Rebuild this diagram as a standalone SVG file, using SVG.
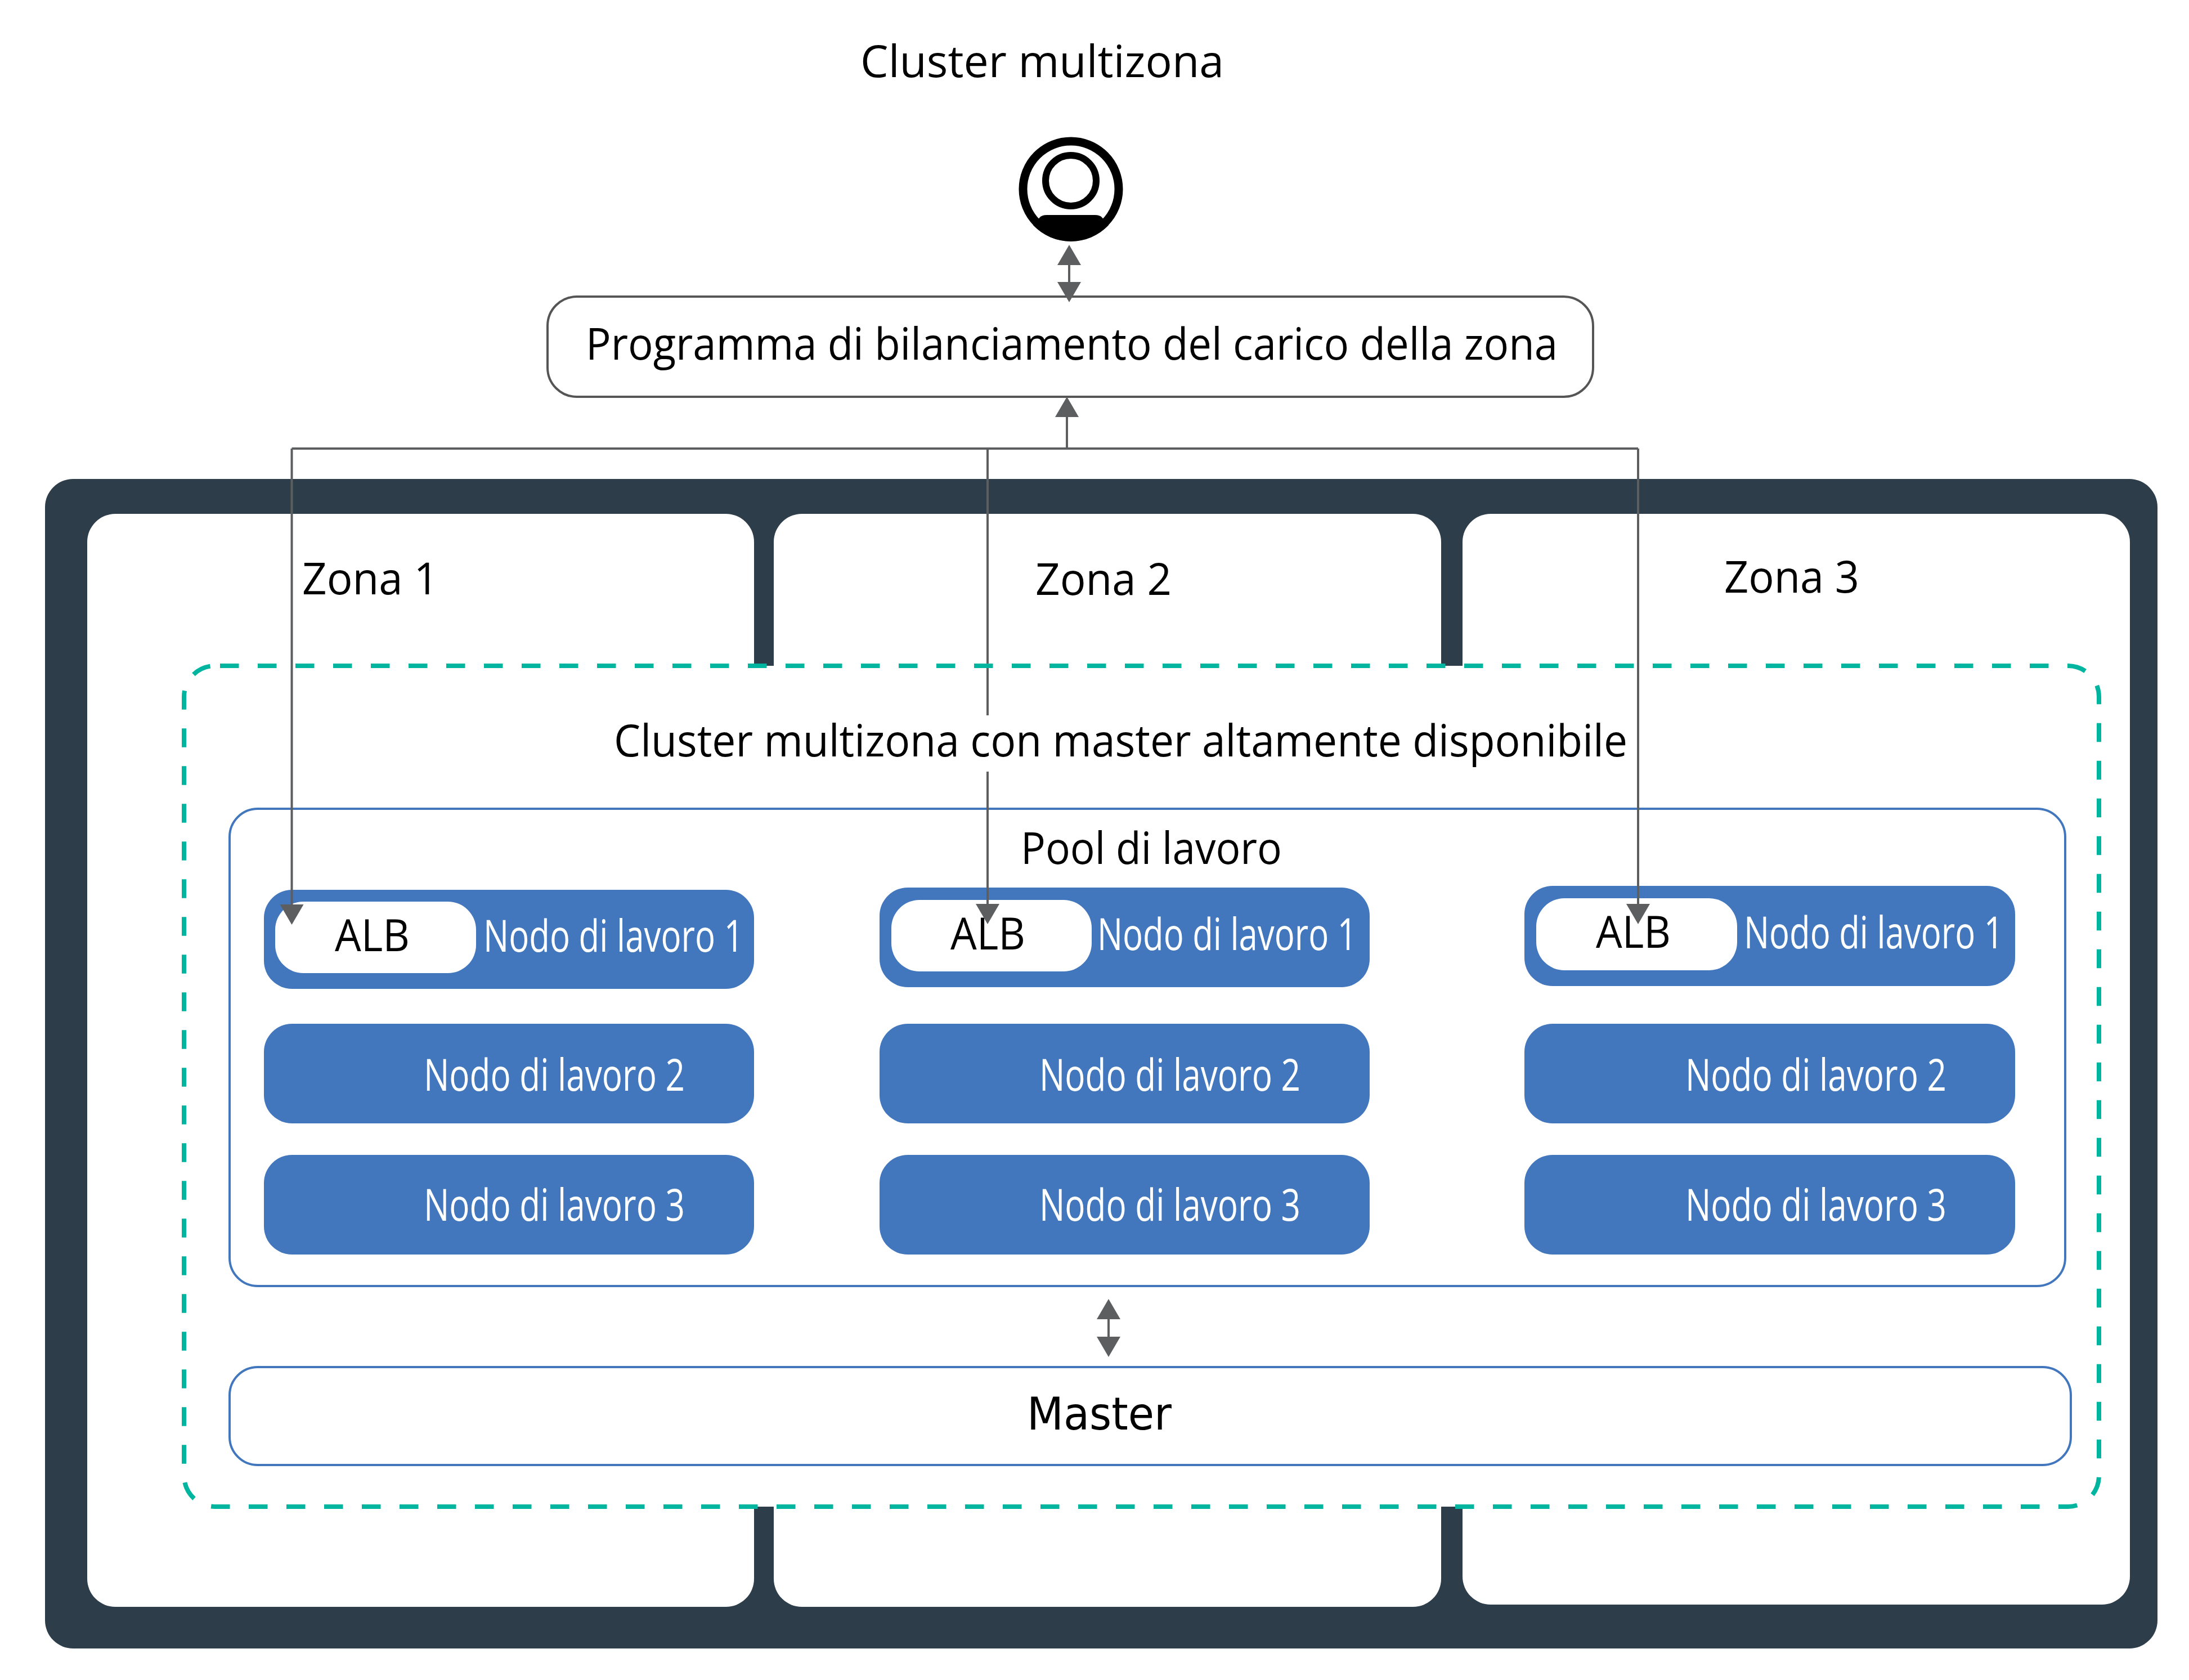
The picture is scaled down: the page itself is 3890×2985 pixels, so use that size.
<svg xmlns="http://www.w3.org/2000/svg" width="3890" height="2985" viewBox="0 0 3890 2985">
<style>
text{font-family:"Open Sans","Liberation Sans",sans-serif;fill:#000;font-size:79px}
.w{fill:#fff;font-size:78px}
.m{font-family:"DejaVu Sans",sans-serif;font-size:80px}
.zone{fill:#fff}
.node{fill:#4277bd}
.alb{fill:#fff}
.box{fill:#fff;stroke:#4277bd;stroke-width:4}
.conn{fill:none;stroke:#5d5e60;stroke-width:4}
</style>
<defs>
<marker id="arrow" markerUnits="userSpaceOnUse" markerWidth="36" markerHeight="42" viewBox="0 0 36 42" refX="32" refY="21" orient="auto-start-reverse"><path d="M0 0L36 21L0 42Z" fill="#5d5e60"/></marker>
</defs>
<rect width="3890" height="2985" fill="#fff"/>
<g id="frame">
<rect x="80" y="851" width="3754" height="2078" rx="50" fill="#2d3e4a"/>
<rect class="zone" x="155" y="913" width="1185" height="1942" rx="50"/>
<rect class="zone" x="1375" y="913" width="1186" height="1942" rx="50"/>
<rect class="zone" x="2599" y="913" width="1186" height="1938" rx="50"/>
<rect class="zone" x="327" y="1183" width="3403" height="1494" rx="55"/>
</g>
<g id="zone-labels">
<text x="537" y="1056" textLength="242" lengthAdjust="spacingAndGlyphs">Zona 1</text>
<text x="1840" y="1057" textLength="242" lengthAdjust="spacingAndGlyphs">Zona 2</text>
<text x="3064" y="1053" textLength="240" lengthAdjust="spacingAndGlyphs">Zona 3</text>
</g>
<g id="title"><text x="1529" y="137" textLength="646" lengthAdjust="spacingAndGlyphs">Cluster multizona</text></g>
<g id="user">
<circle cx="1903" cy="336" r="85" fill="#fff" stroke="#000" stroke-width="15"/>
<circle cx="1903" cy="321" r="45" fill="#fff" stroke="#000" stroke-width="12"/>
<path d="M1836 400L1848 386Q1852 382 1860 382H1946Q1954 382 1958 386L1970 400A92 92 0 0 1 1836 400Z" fill="#000"/>
</g>
<g id="load-balancer">
<rect x="973" y="527" width="1858" height="178" rx="52" fill="#fff" stroke="#555" stroke-width="4"/>
<text x="1041" y="639" textLength="1727" lengthAdjust="spacingAndGlyphs">Programma di bilanciamento del carico della zona</text>
</g>
<g id="ha-label"><text x="1091" y="1344" textLength="1801" lengthAdjust="spacingAndGlyphs">Cluster multizona con master altamente disponibile</text></g>
<g id="worker-pool">
<rect class="box" x="408" y="1437" width="3262" height="848" rx="50"/>
<text x="1814" y="1535" textLength="464" lengthAdjust="spacingAndGlyphs">Pool di lavoro</text>
</g>
<g id="z1-worker1">
<rect class="node" x="469" y="1581" width="871" height="176" rx="50"/>
<rect class="alb" x="489" y="1602" width="357" height="127" rx="50"/>
<text x="595" y="1690" textLength="133" lengthAdjust="spacingAndGlyphs">ALB</text>
<text class="w" x="859" y="1691" textLength="462" lengthAdjust="spacingAndGlyphs">Nodo di lavoro 1</text>
</g>
<g id="z2-worker1">
<rect class="node" x="1563" y="1577" width="871" height="177" rx="50"/>
<rect class="alb" x="1584" y="1599" width="356" height="127" rx="50"/>
<text x="1689" y="1687" textLength="133" lengthAdjust="spacingAndGlyphs">ALB</text>
<text class="w" x="1950" y="1688" textLength="461" lengthAdjust="spacingAndGlyphs">Nodo di lavoro 1</text>
</g>
<g id="z3-worker1">
<rect class="node" x="2709" y="1574" width="872" height="178" rx="50"/>
<rect class="alb" x="2730" y="1596" width="357" height="128" rx="50"/>
<text x="2836" y="1684" textLength="133" lengthAdjust="spacingAndGlyphs">ALB</text>
<text class="w" x="3099" y="1685" textLength="461" lengthAdjust="spacingAndGlyphs">Nodo di lavoro 1</text>
</g>
<g id="z1-worker2"><rect class="node" x="469" y="1819" width="871" height="177" rx="50"/><text class="w" x="753" y="1938" textLength="464" lengthAdjust="spacingAndGlyphs">Nodo di lavoro 2</text></g>
<g id="z2-worker2"><rect class="node" x="1563" y="1819" width="871" height="177" rx="50"/><text class="w" x="1847" y="1938" textLength="464" lengthAdjust="spacingAndGlyphs">Nodo di lavoro 2</text></g>
<g id="z3-worker2"><rect class="node" x="2709" y="1819" width="872" height="177" rx="50"/><text class="w" x="2995" y="1938" textLength="464" lengthAdjust="spacingAndGlyphs">Nodo di lavoro 2</text></g>
<g id="z1-worker3"><rect class="node" x="469" y="2052" width="871" height="177" rx="50"/><text class="w" x="753" y="2169" textLength="464" lengthAdjust="spacingAndGlyphs">Nodo di lavoro 3</text></g>
<g id="z2-worker3"><rect class="node" x="1563" y="2052" width="871" height="177" rx="50"/><text class="w" x="1847" y="2169" textLength="464" lengthAdjust="spacingAndGlyphs">Nodo di lavoro 3</text></g>
<g id="z3-worker3"><rect class="node" x="2709" y="2052" width="872" height="177" rx="50"/><text class="w" x="2995" y="2169" textLength="464" lengthAdjust="spacingAndGlyphs">Nodo di lavoro 3</text></g>
<g id="master">
<rect class="box" x="408" y="2429" width="3272" height="174" rx="50"/>
<text class="m" x="1825" y="2540" textLength="257" lengthAdjust="spacingAndGlyphs">Master</text>
</g>
<g id="connectors">
<path class="conn" d="M518.5 797H2911"/>
<path class="conn" d="M1896 797V709" marker-end="url(#arrow)"/>
<path class="conn" d="M518.5 797V1639" marker-end="url(#arrow)"/>
<path class="conn" d="M1755 797V1271"/>
<path class="conn" d="M1755 1371V1638" marker-end="url(#arrow)"/>
<path class="conn" d="M2911 797V1638" marker-end="url(#arrow)"/>
<path class="conn" d="M1900 439V533" marker-start="url(#arrow)" marker-end="url(#arrow)"/>
<path class="conn" d="M1970 2312V2407" marker-start="url(#arrow)" marker-end="url(#arrow)"/>
</g>
<rect id="ha-cluster" x="327" y="1183" width="3403" height="1494" rx="55" fill="none" stroke="#00b5a0" stroke-width="8" stroke-dasharray="33.5 33.5" stroke-dashoffset="-9"/>
</svg>
